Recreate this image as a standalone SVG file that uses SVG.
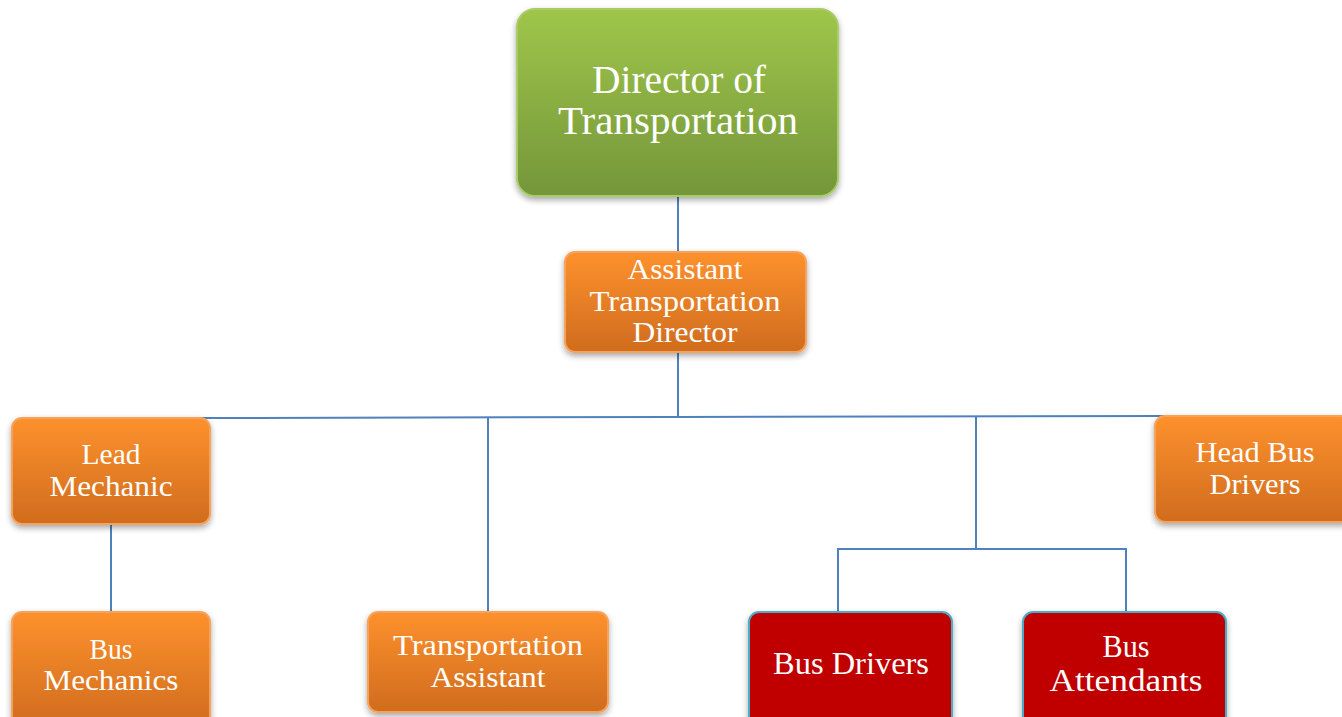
<svg xmlns="http://www.w3.org/2000/svg" width="1342" height="717" viewBox="0 0 1342 717">
<defs>
<linearGradient id="gGreen" x1="0" y1="0" x2="0" y2="1">
<stop offset="0" stop-color="#9fc64a"/>
<stop offset="1" stop-color="#74963a"/>
</linearGradient>
<linearGradient id="gOrange" x1="0" y1="0" x2="0" y2="1">
<stop offset="0" stop-color="#fd912d"/>
<stop offset="1" stop-color="#d06c1e"/>
</linearGradient>
<filter id="sh" x="-10%" y="-10%" width="120%" height="130%">
<feGaussianBlur in="SourceAlpha" stdDeviation="3"/>
<feOffset dx="0" dy="3" result="b"/>
<feComponentTransfer><feFuncA type="linear" slope="0.35"/></feComponentTransfer>
<feMerge><feMergeNode/><feMergeNode in="SourceGraphic"/></feMerge>
</filter>
</defs>
<style>
.green{fill:url(#gGreen);stroke:#a8cc66;stroke-width:2;filter:url(#sh)}
.orange{fill:url(#gOrange);stroke:#f7a25a;stroke-width:2;filter:url(#sh)}
.red{fill:#c00000;stroke:#4bacc6;stroke-width:2;filter:url(#sh)}
.t{font-family:"Liberation Serif","DejaVu Serif",serif;fill:#ffffff;text-anchor:middle}
.conn{stroke:#4f81bd;stroke-width:2;fill:none}
</style>
<g id="connectors">
<line class="conn" x1="678" y1="196" x2="678" y2="252"/>
<line class="conn" x1="678" y1="352" x2="678" y2="417"/>
<polyline class="conn" points="197,418 678,417 1168,416"/>
<line class="conn" x1="488" y1="418" x2="488" y2="612"/>
<line class="conn" x1="976" y1="417" x2="976" y2="549"/>
<polyline class="conn" points="838,612 838,549 1126,549 1126,612"/>
<line class="conn" x1="111" y1="524" x2="111" y2="612"/>
</g>
<g id="director">
<rect class="green" x="517" y="9" width="321" height="187" rx="18"/>
<text class="t" x="679" y="93" font-size="40" textLength="174" lengthAdjust="spacingAndGlyphs">Director of</text>
<text class="t" x="678" y="134" font-size="40" textLength="240" lengthAdjust="spacingAndGlyphs">Transportation</text>
</g>
<g id="assistant-director">
<rect class="orange" x="565" y="252" width="241" height="100" rx="10"/>
<text class="t" x="685" y="279" font-size="29" textLength="115" lengthAdjust="spacingAndGlyphs">Assistant</text>
<text class="t" x="685" y="311" font-size="29" textLength="191" lengthAdjust="spacingAndGlyphs">Transportation</text>
<text class="t" x="685" y="342" font-size="29" textLength="105" lengthAdjust="spacingAndGlyphs">Director</text>
</g>
<g id="lead-mechanic">
<rect class="orange" x="12" y="418" width="198" height="106" rx="10"/>
<text class="t" x="111" y="464" font-size="29" textLength="59" lengthAdjust="spacingAndGlyphs">Lead</text>
<text class="t" x="111" y="496" font-size="29" textLength="123" lengthAdjust="spacingAndGlyphs">Mechanic</text>
</g>
<g id="head-bus-drivers">
<rect class="orange" x="1155" y="416" width="200" height="106" rx="10"/>
<text class="t" x="1255" y="462" font-size="29" textLength="119" lengthAdjust="spacingAndGlyphs">Head Bus</text>
<text class="t" x="1255" y="494" font-size="29" textLength="91" lengthAdjust="spacingAndGlyphs">Drivers</text>
</g>
<g id="bus-mechanics">
<rect class="orange" x="12" y="612" width="198" height="115" rx="10"/>
<text class="t" x="111" y="659" font-size="29" textLength="43" lengthAdjust="spacingAndGlyphs">Bus</text>
<text class="t" x="111" y="690" font-size="29" textLength="135" lengthAdjust="spacingAndGlyphs">Mechanics</text>
</g>
<g id="transportation-assistant">
<rect class="orange" x="368" y="612" width="240" height="100" rx="10"/>
<text class="t" x="488" y="655" font-size="29" textLength="190" lengthAdjust="spacingAndGlyphs">Transportation</text>
<text class="t" x="488" y="687" font-size="29" textLength="115" lengthAdjust="spacingAndGlyphs">Assistant</text>
</g>
<g id="bus-drivers">
<rect class="red" x="749" y="612" width="203" height="115" rx="10"/>
<text class="t" x="851" y="674" font-size="31" textLength="156" lengthAdjust="spacingAndGlyphs">Bus Drivers</text>
</g>
<g id="bus-attendants">
<rect class="red" x="1023" y="612" width="203" height="115" rx="10"/>
<text class="t" x="1126" y="657" font-size="31" textLength="47" lengthAdjust="spacingAndGlyphs">Bus</text>
<text class="t" x="1126" y="691" font-size="31" textLength="153" lengthAdjust="spacingAndGlyphs">Attendants</text>
</g>
</svg>
